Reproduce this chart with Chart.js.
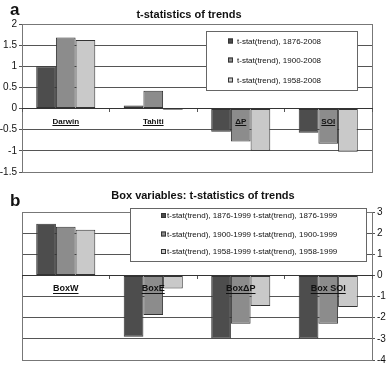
<!DOCTYPE html>
<html lang="en">
<head>
<meta charset="UTF-8">
<title>t-statistics of trends</title>
<style>
  body {margin: 0; background: #fff; font-family: "Liberation Sans", Arial, sans-serif; overflow: hidden;}
  .panel {position: absolute; left: 0; width: 388px;}
  .letter {position: absolute; left: 10px; font-weight: bold; font-size: 17px; line-height: 17px; color: #111;}
  .title {position: absolute; font-weight: bold; font-size: 11px; line-height: 11px; text-align: center; color: #111;}
</style>
<script src="https://cdn.jsdelivr.net/npm/chart.js@4.4.0/dist/chart.umd.min.js"></script>
</head>
<body>
<div class="panel" style="top:0;height:180px"><canvas id="chartA" width="388" height="180"></canvas></div>
<div class="panel" style="top:180px;height:188px"><canvas id="chartB" width="388" height="188"></canvas></div>
<div class="letter" style="top:1px">a</div>
<div class="letter" style="top:192px">b</div>
<div class="title" style="top:9px;left:0;width:378px">t-statistics of trends</div>
<div class="title" style="top:190px;left:18px;width:370px">Box variables: t-statistics of trends</div>

<script>
// panel a data
const catsA = ['Darwin', 'Tahiti', '\u0394P', 'SOI'];
const a1876 = [1.0, 0.07, -0.55, -0.57];
const a1900 = [1.68, 0.42, -0.78, -0.83];
const a1958 = [1.62, -0.03, -1.0, -1.02];
const legA = ['t-stat(trend), 1876-2008', 't-stat(trend), 1900-2008', 't-stat(trend), 1958-2008'];
const yTicksA = [2, 1.5, 1, 0.5, 0, -0.5, -1, -1.5];

// panel b data
const catsB = ['BoxW', 'BoxE', 'Box\u0394P', 'Box SOI'];
const b1876 = [2.44, -2.9, -2.98, -2.98];
const b1900 = [2.3, -1.87, -2.28, -2.29];
const b1958 = [2.16, -0.62, -1.45, -1.49];
const legB = ['t-stat(trend), 1876-1999 t-stat(trend), 1876-1999',
              't-stat(trend), 1900-1999 t-stat(trend), 1900-1999',
              't-stat(trend), 1958-1999 t-stat(trend), 1958-1999'];
const yTicksB = [3, 2, 1, 0, -1, -2, -3, -4];

const fam = '"Liberation Sans", Arial, sans-serif';
const fills = ['#4d4d4d', '#8c8c8c', '#c9c9c9'];

// frame round the plot area, underlined category labels, legend box
const extras = {
  id: 'extras',
  beforeDatasetsDraw(chart) {
    const a = chart.chartArea, ctx = chart.ctx;
    ctx.save();
    ctx.strokeStyle = '#777';
    ctx.lineWidth = 1;
    ctx.strokeRect(Math.round(a.left) + 0.5, Math.round(a.top) + 0.5,
                   Math.round(a.right - a.left), Math.round(a.bottom - a.top));
    ctx.restore();
  },
  afterDraw(chart, args, opts) {
    const ctx = chart.ctx;
    const xs = chart.scales.x, ys = chart.scales.y;
    // underline x labels
    ctx.save();
    ctx.font = 'bold ' + opts.catSize + 'px ' + fam;
    ctx.strokeStyle = '#111';
    ctx.lineWidth = 1;
    const uy = Math.round(ys.getPixelForValue(0) + opts.underline) + 0.5;
    chart.data.labels.forEach((lab, i) => {
      const cx = xs.getPixelForTick(i);
      const w = ctx.measureText(lab).width;
      ctx.beginPath();
      ctx.moveTo(cx - w / 2, uy);
      ctx.lineTo(cx + w / 2, uy);
      ctx.stroke();
    });
    // legend
    const L = opts.box;
    ctx.fillStyle = '#fff';
    ctx.fillRect(L.x, L.y, L.w, L.h);
    ctx.strokeStyle = '#666';
    ctx.strokeRect(L.x + 0.5, L.y + 0.5, L.w, L.h);
    ctx.font = '8px ' + fam;
    ctx.textBaseline = 'middle';
    ctx.textAlign = 'left';
    chart.data.datasets.forEach((ds, i) => {
      const ry = L.rows[i];
      ctx.fillStyle = ds.backgroundColor;
      ctx.fillRect(L.mx, ry - L.m / 2, L.m, L.m);
      ctx.strokeStyle = '#333';
      ctx.strokeRect(L.mx + 0.5, ry - L.m / 2 + 0.5, L.m - 1, L.m - 1);
      ctx.fillStyle = '#111';
      ctx.fillText(ds.label, L.tx, ry + 0.5);
    });
    ctx.restore();
  }
};

function makeSets(series, labels) {
  return series.map((s, i) => ({
    label: labels[i],
    data: s,
    backgroundColor: fills[i],
    borderColor: '#333',
    borderWidth: 1,
    borderSkipped: false,
    categoryPercentage: 0.675,
    barPercentage: 1
  }));
}

function xAxis(size) {
  return {
    position: {y: 0},
    offset: true,
    afterFit: s => { s.height = 0; },
    grid: {drawOnChartArea: false, tickLength: 3, color: '#555', z: 1},
    border: {color: '#333', z: 1},
    ticks: {font: {family: fam, size: size, weight: 'bold'}, color: '#111', padding: 5,
            maxRotation: 0, autoSkip: false, z: 1}
  };
}

function yAxis(ticks, side, width) {
  return {
    position: side,
    min: ticks[ticks.length - 1],
    max: ticks[0],
    afterFit: s => { s.width = width; },
    afterBuildTicks: s => { s.ticks = ticks.map(v => ({value: v})); },
    grid: {color: '#555', tickLength: 3},
    border: {color: '#777'},
    ticks: {font: {family: fam, size: 10}, color: '#111', padding: 2, callback: v => String(v)}
  };
}

new Chart(document.getElementById('chartA'), {
  type: 'bar',
  data: {labels: catsA, datasets: makeSets([a1876, a1900, a1958], legA)},
  options: {
    responsive: false,
    animation: false,
    layout: {padding: {top: 24, bottom: 6, left: 0, right: 16}},
    scales: {x: xAxis(8), y: yAxis(yTicksA, 'left', 22)},
    plugins: {
      legend: {display: false},
      tooltip: {enabled: false},
      extras: {catSize: 8, underline: 16,
               box: {x: 206, y: 31, w: 151, h: 59, rows: [41, 60, 80], mx: 228, m: 5, tx: 237}}
    }
  },
  plugins: [extras]
});

new Chart(document.getElementById('chartB'), {
  type: 'bar',
  data: {labels: catsB, datasets: makeSets([b1876, b1900, b1958], legB)},
  options: {
    responsive: false,
    animation: false,
    layout: {padding: {top: 32, bottom: 6, left: 22, right: 0}},
    scales: {x: xAxis(9), y: yAxis(yTicksB, 'right', 16)},
    plugins: {
      legend: {display: false},
      tooltip: {enabled: false},
      extras: {catSize: 9, underline: 18,
               box: {x: 130, y: 28, w: 236, h: 53, rows: [35.5, 54, 71.5], mx: 161, m: 5, tx: 167}}
    }
  },
  plugins: [extras]
});
</script>
</body>
</html>
